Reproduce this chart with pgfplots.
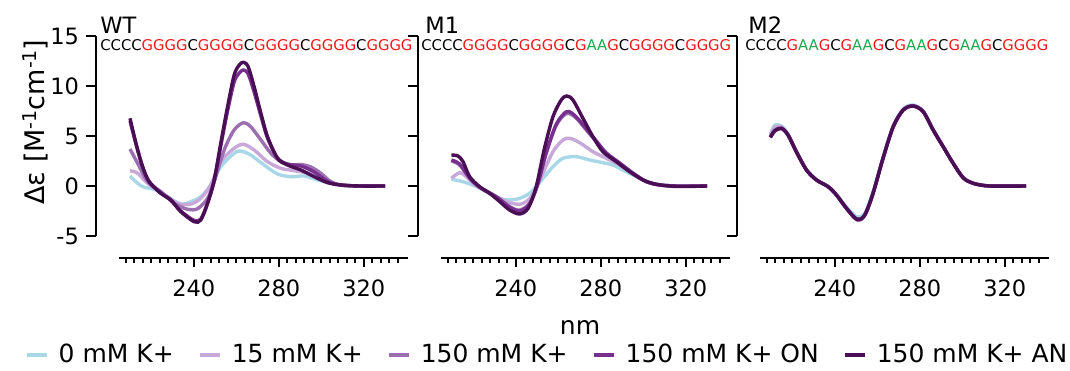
\documentclass[border=0pt]{standalone}
\usepackage{fontspec}
\setmainfont{DejaVu Sans}
\usepackage{pgfplots}
\pgfplotsset{compat=1.18}
\definecolor{c0}{HTML}{A8D8E8}
\definecolor{c15}{HTML}{C8A8D8}
\definecolor{c150}{HTML}{9B6FB0}
\definecolor{cON}{HTML}{78308F}
\definecolor{cAN}{HTML}{4A0E55}
\definecolor{seqred}{HTML}{F01818}
\definecolor{seqgreen}{HTML}{19A84A}
\newcommand{\R}[1]{\textcolor{seqred}{#1}}
\newcommand{\Gn}[1]{\textcolor{seqgreen}{#1}}
\newcommand{\bigf}{\fontsize{11.25}{13}\selectfont}
\newcommand{\labf}{\fontsize{12.5}{14}\selectfont}
\newcommand{\seqf}{\fontsize{7.4}{9}\selectfont}
\newcommand{\sups}[1]{\raisebox{0.55ex}{\fontsize{9.5}{10}\selectfont #1}}
\pgfplotsset{
 panel/.style={scale only axis, width=161pt, height=100pt, xmin=194, xmax=345.5, ymin=-5, ymax=15,
   axis x line=none, axis y line=left, axis line style={-, line width=1.1pt, black},
   ytick={-5,0,5,10,15}, tick align=outside, major tick length=5pt,
   tick style={line width=1.1pt, black},
   yticklabel style={font=\bigf}, /pgf/number format/assume math mode=true, clip=false},
 xpanel/.style={scale only axis, width=144.5pt, height=10pt, xmin=205, xmax=341, ymin=0, ymax=1,
   axis y line=none, axis x line=bottom, axis line style={-, line width=1.1pt, black},
   xtick={240,280,320}, minor xtick={208,212,...,336}, tick align=outside,
   major tick length=4.5pt, minor tick length=2.5pt, tick style={line width=1.1pt, black},
   xticklabel style={font=\bigf, yshift=-3pt}, /pgf/number format/assume math mode=true},
 crv/.style={smooth, line width=1.7pt, no marks},
}
\begin{document}
\begin{tikzpicture}
\path[use as bounding box] (-48pt,-67pt) rectangle (487pt,118pt);
% ---------------- WT ----------------
\begin{axis}[panel, at={(0pt,0pt)}, anchor=south west,
  legend columns=5,
  legend style={at={(1.404,-0.595)}, anchor=center, draw=none, fill=none, font=\labf,
    /tikz/every even column/.append style={column sep=10pt},
    /tikz/every odd column/.append style={column sep=3pt}},
  legend image code/.code={\draw[#1, line width=2pt] (0pt,0pt) -- (10pt,0pt);}]
\addplot[crv, c0] coordinates {(210,1.0) (213.6,0.27) (216.7,-0.13) (221.4,-0.33) (227.7,-1.07) (233.9,-1.8) (238.6,-1.57) (243.3,-1.07) (248,0.1) (252.7,1.93) (259,3.27) (262.1,3.5) (266.8,3.1) (273.1,2.1) (279.4,1.2) (285.7,0.93) (292,1.0) (298.3,0.6) (304.5,0.27) (310,0.05) (318,0) (330,0)};
\addlegendentry{0 mM K+}
\addplot[crv, c15] coordinates {(210,1.53) (213.6,1.27) (218.3,0.27) (224.5,-0.57) (232.3,-1.73) (238.6,-1.8) (243.3,-1.23) (248,0.1) (252.7,2.43) (259,3.77) (263.4,4.17) (268.4,3.6) (274.7,2.43) (281,1.77) (287.3,1.53) (295.1,1.2) (303,0.43) (309.2,0.1) (318,0) (330,0)};
\addlegendentry{15 mM K+}
\addplot[crv, c150] coordinates {(210,3.7) (213.6,2.27) (218.3,0.43) (224.5,-0.57) (230.8,-1.73) (237.1,-2.33) (241.8,-2.27) (246.5,-1.23) (249.6,0.43) (254.3,3.6) (259,5.6) (263.4,6.33) (266.8,5.93) (271.6,4.6) (276.3,3.27) (281,2.43) (285.7,2.1) (290.4,2.15) (295.1,1.9) (299.8,1.27) (304.5,0.43) (309.2,0.1) (318,0) (330,0)};
\addlegendentry{150 mM K+}
\addplot[crv, cON] coordinates {(210,6.5) (212.8,4.2) (215.9,1.95) (219,0.45) (224.5,-0.7) (229.2,-1.4) (233.9,-2.5) (240.2,-3.45) (243.3,-3.3) (246.5,-1.7) (249.6,0.5) (252.7,4.0) (255.9,7.5) (259,10.4) (261.4,11.3) (263.4,11.6) (265.6,11.2) (268.4,9.4) (271.6,7.0) (274.7,4.8) (279.4,2.8) (284.1,2.2) (290.4,2.0) (296.7,1.4) (303,0.45) (309.2,0.1) (318,0) (330,0)};
\addlegendentry{150 mM K+ ON}
\addplot[crv, cAN] coordinates {(210,6.77) (212.8,4.27) (215.9,1.93) (219,0.43) (224.5,-0.73) (229.2,-1.4) (233.9,-2.57) (240.2,-3.57) (243.3,-3.4) (246.5,-1.73) (249.6,0.6) (252.7,4.27) (255.9,7.93) (259,11.1) (261.4,12.1) (263.4,12.37) (265.6,11.93) (268.4,9.93) (271.6,7.27) (274.7,4.93) (279.4,2.77) (284.1,2.1) (290.4,1.6) (296.7,0.93) (303,0.33) (309.2,0.1) (318,0) (330,0)};
\addlegendentry{150 mM K+ AN}
\end{axis}
\begin{axis}[xpanel, at={(11.69pt,-11pt)}, anchor=south west]
\end{axis}
\node[anchor=west, inner sep=0pt, font=\bigf] at (2pt,105.5pt) {WT};
\node[anchor=west, inner sep=0pt, font=\seqf] at (2pt,95.5pt) {CCCC\R{GGGG}C\R{GGGG}C\R{GGGG}C\R{GGGG}C\R{GGGG}};
% ---------------- M1 ----------------
\begin{axis}[panel, at={(161pt,0pt)}, anchor=south west, yticklabels={}]
\addplot[crv, c0] coordinates {(209.7,0.67) (215.2,0.43) (221.5,-0.07) (227.7,-0.73) (234,-1.33) (240.2,-1.33) (246.5,-0.73) (252.8,0.77) (257.5,1.93) (262.2,2.77) (268.5,2.93) (274.7,2.6) (281,2.33) (285.7,2.1) (290.4,1.6) (296.7,0.93) (303,0.33) (309.3,0.1) (318,0) (330,0)};
\addplot[crv, c15] coordinates {(209.7,0.77) (213.6,1.33) (216.8,0.93) (221.5,0) (230.9,-1.07) (237.1,-1.67) (242.6,-1.8) (247.3,-1.07) (252,0.93) (257.5,3.43) (262.2,4.6) (265.4,4.77) (270.1,4.33) (276.3,3.43) (282.6,2.77) (288.9,2.1) (295.1,1.2) (301.4,0.43) (307.7,0.1) (316,0) (330,0)};
\addplot[crv, c150] coordinates {(209.7,2.5) (213.6,2.1) (218.3,0.77) (223,-0.13) (230.9,-1.07) (237.1,-2.07) (241.8,-2.4) (246.5,-1.73) (250.4,0.27) (254.3,3.27) (259.1,6.1) (264.1,7.27) (268.5,6.77) (273.2,5.6) (277.9,4.43) (282.6,3.27) (288.9,2.27) (295.1,1.27) (301.4,0.43) (307.7,0.1) (316,0) (330,0)};
\addplot[crv, cON] coordinates {(209.7,2.6) (213.6,2.2) (218.3,0.8) (223,-0.1) (230.9,-1.1) (237.1,-2.1) (241.8,-2.5) (246.5,-1.8) (250.4,0.2) (254.3,3.3) (259.1,6.2) (264.1,7.45) (268.5,6.9) (273.2,5.7) (277.9,4.5) (282.6,3.3) (288.9,2.3) (295.1,1.3) (301.4,0.45) (307.7,0.1) (316,0) (330,0)};
\addplot[crv, cAN] coordinates {(209.7,3.1) (212.8,3.0) (215.2,2.43) (218.3,0.93) (223,-0.07) (227.7,-0.73) (232.5,-1.57) (237.1,-2.4) (241.8,-2.8) (245.8,-2.23) (249.6,-0.07) (253.5,3.77) (257.5,6.93) (261.4,8.6) (264,9.0) (266.9,8.6) (271.6,6.77) (276.3,4.93) (281,3.43) (287.3,2.43) (293.6,1.43) (299.9,0.6) (306.2,0.17) (315.6,-0.05) (330,0)};
\end{axis}
\begin{axis}[xpanel, at={(172.69pt,-11pt)}, anchor=south west]
\end{axis}
\node[anchor=west, inner sep=0pt, font=\bigf] at (164.5pt,105.5pt) {M1};
\node[anchor=west, inner sep=0pt, font=\seqf] at (162.5pt,95.5pt) {CCCC\R{GGGG}C\R{GGGG}C\R{G}\Gn{AA}\R{G}C\R{GGGG}C\R{GGGG}};
% ---------------- M2 ----------------
\begin{axis}[panel, at={(320.5pt,0pt)}, anchor=south west, yticklabels={}]
\addplot[crv, c0] coordinates {(209.7,5.2) (211.8,6.1) (214.9,6.0) (218,5.2) (221.9,3.5) (226.7,1.65) (231.4,0.65) (236.9,-0.05) (240.8,-0.85) (245.5,-2.1) (250.5,-3.1) (254.1,-2.7) (258,-0.6) (262.7,2.85) (267.5,6.0) (272.2,7.7) (276.9,8.1) (281.6,7.5) (286.3,5.65) (291,3.95) (295.7,2.3) (300.4,0.85) (305.1,0.27) (312.9,0) (330,0)};
\addplot[crv, c15] coordinates {(209.7,5.0) (211.8,5.9) (214.9,5.9) (218,5.15) (221.9,3.45) (226.7,1.6) (231.4,0.6) (236.9,-0.07) (240.8,-0.9) (245.5,-2.2) (250.5,-3.35) (254.1,-2.9) (258,-0.7) (262.7,2.8) (267.5,5.95) (272.2,7.65) (276.9,8.05) (281.6,7.45) (286.3,5.6) (291,3.93) (295.7,2.27) (300.4,0.83) (305.1,0.27) (312.9,0) (330,0)};
\addplot[crv, c150] coordinates {(209.7,4.9) (211.8,5.6) (214.9,5.8) (218,5.1) (221.9,3.45) (226.7,1.6) (231.4,0.6) (236.9,-0.07) (240.8,-0.9) (245.5,-2.25) (250.5,-3.4) (254.1,-2.95) (258,-0.75) (262.7,2.77) (267.5,5.93) (272.2,7.6) (276.9,8.0) (281.6,7.43) (286.3,5.6) (291,3.93) (295.7,2.27) (300.4,0.83) (305.1,0.27) (312.9,0) (330,0)};
\addplot[crv, cON] coordinates {(209.7,4.85) (211.8,5.5) (214.9,5.75) (218,5.1) (221.9,3.43) (226.7,1.6) (231.4,0.6) (236.9,-0.07) (240.8,-0.9) (245.5,-2.23) (250.5,-3.35) (254.1,-2.9) (258,-0.73) (262.7,2.77) (267.5,5.93) (272.2,7.6) (276.9,8.0) (281.6,7.43) (286.3,5.6) (291,3.93) (295.7,2.27) (300.4,0.83) (305.1,0.27) (312.9,0) (330,0)};
\addplot[crv, cAN] coordinates {(209.7,4.87) (211.8,5.53) (214.9,5.77) (218,5.1) (221.9,3.43) (226.7,1.6) (231.4,0.6) (236.9,-0.07) (240.8,-0.9) (245.5,-2.23) (250.5,-3.33) (254.1,-2.9) (258,-0.73) (262.7,2.77) (267.5,5.93) (272.2,7.6) (276.9,8.0) (281.6,7.43) (286.3,5.6) (291,3.93) (295.7,2.27) (300.4,0.83) (305.1,0.27) (312.9,0) (330,0)};
\end{axis}
\begin{axis}[xpanel, at={(332.19pt,-11pt)}, anchor=south west]
\end{axis}
\node[anchor=west, inner sep=0pt, font=\bigf] at (326pt,105.5pt) {M2};
\node[anchor=west, inner sep=0pt, font=\seqf] at (324.5pt,95.5pt) {CCCC\R{G}\Gn{AA}\R{G}C\R{G}\Gn{AA}\R{G}C\R{G}\Gn{AA}\R{G}C\R{G}\Gn{AA}\R{G}C\R{GGGG}};
% ---------------- labels ----------------
\node[rotate=90, font=\fontsize{13.5}{15}\selectfont, inner sep=0pt] at (-30.5pt,57pt) {Δε [M\sups{-1}cm\sups{-1}]};
\node[font=\labf, inner sep=0pt] at (242pt,-45.5pt) {nm};
\end{tikzpicture}
\end{document}
